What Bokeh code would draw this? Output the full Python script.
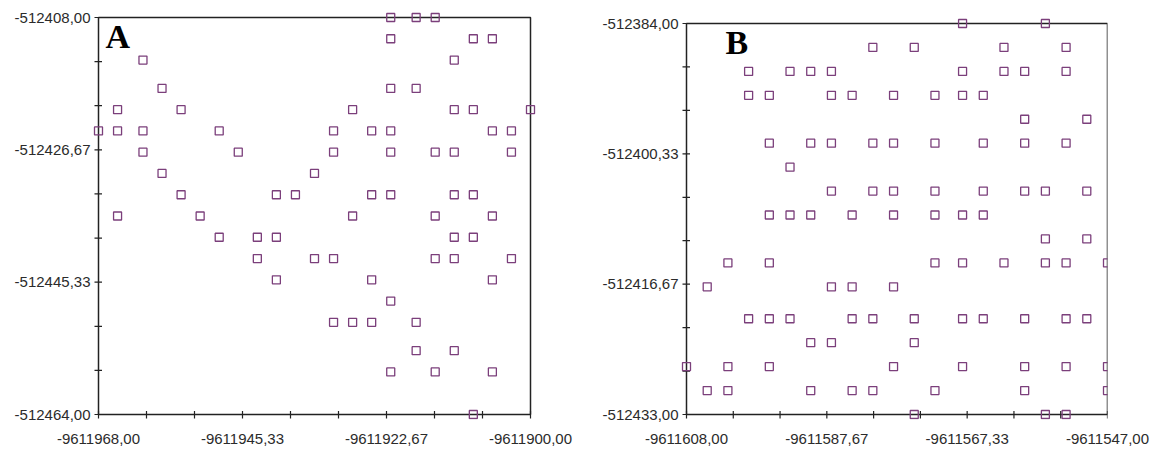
from bokeh.plotting import figure
from bokeh.layouts import row
from bokeh.models import FixedTicker, CustomJSTickFormatter, Range1d, Label, ColumnDataSource
from bokeh.embed import file_html
from bokeh.resources import INLINE

# ---------------- Panel A data ----------------
a_xlim = [-9611968.0, -9611900.0]
a_ylim = [-512464.0, -512408.0]
a_row_y = [-512408, -512411, -512414, -512418, -512421, -512424, -512427, -512430,
           -512433, -512436, -512439, -512442, -512445, -512448, -512451, -512455,
           -512458, -512464]
a_row_x = [
    [-9611922, -9611918, -9611915],
    [-9611922, -9611909, -9611906],
    [-9611961, -9611912],
    [-9611958, -9611922, -9611918],
    [-9611965, -9611955, -9611928, -9611912, -9611909, -9611900],
    [-9611968, -9611965, -9611961, -9611949, -9611931, -9611925, -9611922, -9611906, -9611903],
    [-9611961, -9611946, -9611931, -9611922, -9611915, -9611912, -9611903],
    [-9611958, -9611934],
    [-9611955, -9611940, -9611937, -9611925, -9611922, -9611912, -9611909],
    [-9611965, -9611952, -9611928, -9611915, -9611906],
    [-9611949, -9611943, -9611940, -9611912, -9611909],
    [-9611943, -9611934, -9611931, -9611915, -9611912, -9611903],
    [-9611940, -9611925, -9611906],
    [-9611922],
    [-9611931, -9611928, -9611925, -9611918],
    [-9611918, -9611912],
    [-9611922, -9611915, -9611906],
    [-9611909],
]

# ---------------- Panel B data ----------------
b_xlim = [-9611608.0, -9611547.0]
b_ylim = [-512433.0, -512384.0]
b_row_y = [-512384, -512387, -512390, -512393, -512396, -512399, -512402, -512405,
           -512408, -512411, -512414, -512417, -512421, -512424, -512427, -512430,
           -512433]
b_row_x = [
    [-9611568, -9611556],
    [-9611581, -9611575, -9611562, -9611553],
    [-9611599, -9611593, -9611590, -9611587, -9611568, -9611562, -9611559, -9611553],
    [-9611599, -9611596, -9611587, -9611584, -9611578, -9611572, -9611568, -9611565],
    [-9611559, -9611550],
    [-9611596, -9611590, -9611587, -9611581, -9611578, -9611572, -9611565, -9611559, -9611553],
    [-9611593],
    [-9611587, -9611581, -9611578, -9611572, -9611565, -9611559, -9611556, -9611550],
    [-9611596, -9611593, -9611590, -9611584, -9611578, -9611572, -9611568, -9611565],
    [-9611556, -9611550],
    [-9611602, -9611596, -9611572, -9611568, -9611562, -9611556, -9611553, -9611547],
    [-9611605, -9611587, -9611584, -9611578],
    [-9611599, -9611596, -9611593, -9611584, -9611581, -9611575, -9611568, -9611565, -9611559, -9611553, -9611550],
    [-9611590, -9611587, -9611575],
    [-9611608, -9611602, -9611596, -9611578, -9611568, -9611559, -9611553, -9611547],
    [-9611605, -9611602, -9611590, -9611584, -9611581, -9611572, -9611559, -9611547],
    [-9611575, -9611556, -9611553],
]

MARK = "#7b3f7b"
AX = "#222222"
FONT = "Liberation Sans"
FIG_H = 450
FRAME_TOP, FRAME_BOTTOM = 11, 419  # same for both panels (row aligns the frames)
TICK_FMT = "return tick.toFixed(2).replace('.', ',');"


def flatten(rows_x, rows_y):
    xs, ys = [], []
    for xr, yv in zip(rows_x, rows_y):
        for xv in xr:
            xs.append(xv)
            ys.append(yv)
    return xs, ys


def make_panel(xlim, ylim, rows_x, rows_y, letter, canvas_x, width,
               box_left, box_right, box_top, box_bottom, pad_l, pad_r, lx, ly):
    """Frame a few px larger than the axes box so edge markers are drawn whole."""
    x0, x1 = xlim
    y0, y1 = ylim
    ux = (x1 - x0) / (box_right - box_left)
    uy = (y1 - y0) / (box_bottom - box_top)
    pad_t = box_top - FRAME_TOP
    pad_b = FRAME_BOTTOM - box_bottom
    frame_left = box_left - pad_l - canvas_x
    frame_right = box_right + pad_r - canvas_x
    p = figure(width=width, height=FIG_H, output_backend="svg", toolbar_location=None,
               x_range=Range1d(x0 - pad_l * ux, x1 + pad_r * ux),
               y_range=Range1d(y0 - pad_b * uy, y1 + pad_t * uy),
               min_border_left=frame_left, min_border_right=width - frame_right,
               min_border_top=FRAME_TOP, min_border_bottom=FIG_H - FRAME_BOTTOM)
    p.title.visible = False
    p.grid.visible = False
    p.outline_line_color = None
    p.background_fill_color = "white"
    p.border_fill_color = "white"

    xt = [x0 + k * (x1 - x0) / 3 for k in range(4)]
    xm = [x0 + k * (x1 - x0) / 9 for k in range(10)]
    yt = [y0 + k * (y1 - y0) / 3 for k in range(4)]
    ym = [y0 + k * (y1 - y0) / 9 for k in range(10)]
    p.xaxis.ticker = FixedTicker(ticks=xt)
    p.yaxis.ticker = FixedTicker(ticks=yt)
    for ax in (p.xaxis, p.yaxis):
        ax.formatter = CustomJSTickFormatter(code=TICK_FMT)
        ax.major_label_text_font = FONT
        ax.major_label_text_font_size = "15px"
        ax.major_label_text_color = "#2b2b2b"
        ax.axis_line_color = None
        ax.major_tick_line_color = None
        ax.minor_tick_line_color = None
        ax.major_tick_in = 0
        ax.major_tick_out = 0
        ax.minor_tick_in = 0
        ax.minor_tick_out = 0
    p.yaxis.major_label_standoff = 2 + (pad_l - 6)
    p.xaxis.major_label_standoff = 14

    # axes box and tick marks crossing its left and bottom sides
    p.quad(left=[x0], right=[x1], bottom=[y0], top=[y1], fill_color=None,
           line_color=AX, line_width=1.5)
    p.segment(x0=[x0 - 4 * ux] * len(ym), y0=ym, x1=[x0 + 3.5 * ux] * len(ym), y1=ym,
              line_color=AX, line_width=1.2)
    p.segment(x0=xm, y0=[y0 - 4 * uy] * len(xm), x1=xm, y1=[y0 + 3.5 * uy] * len(xm),
              line_color=AX, line_width=1.2)

    xs, ys = flatten(rows_x, rows_y)
    src = ColumnDataSource(data=dict(x=xs, y=ys))
    p.scatter("x", "y", source=src, marker="square", size=8, line_color=MARK,
              line_width=1.3, fill_color=None)

    p.add_layout(Label(x=lx, y=ly, text=letter, text_font="Liberation Serif",
                       text_font_style="bold", text_font_size="34px",
                       text_color="black", text_align="left", text_baseline="alphabetic"))
    return p


pa = make_panel(a_xlim, a_ylim, a_row_x, a_row_y, "A", 0, 584,
                98, 530, 17, 414, 6, 6, -9611966.9, -512410.68)
pb = make_panel(b_xlim, b_ylim, b_row_x, b_row_y, "B", 584, 573,
                686, 1107, 23, 414, 6, 0, -9611602.35, -512386.32)

layout = row(pa, pb)
open("out.html", "w").write(file_html(layout, INLINE))
